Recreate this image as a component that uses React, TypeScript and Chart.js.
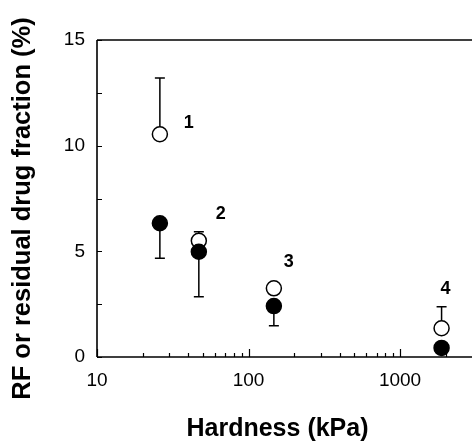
import React, { useEffect, useRef } from "react";
import { Chart, registerables } from "chart.js";

Chart.register(...registerables);

// ---- data ----
const hardness = [26, 47, 147, 1880]; // kPa
const openRF = [10.54, 5.5, 3.25, 1.36]; // open circles (%)
const openUpper = [13.2, 5.93, null, 2.38]; // upper end of error bar
const filledRF = [6.33, 4.98, 2.41, 0.43]; // filled circles (%)
const filledLower = [4.67, 2.85, 1.48, null]; // lower end of error bar
const pointLabels = ["1", "2", "3", "4"];

const xTickValues = [
  10, 20, 30, 40, 50, 60, 70, 80, 90,
  100, 200, 300, 400, 500, 600, 700, 800, 900,
  1000, 2000,
];
const xTickLabels = ["10", "100", "1000"];
const yTickValues = [0, 2.5, 5, 7.5, 10, 12.5, 15];
const yTickLabels = ["0", "5", "10", "15"];
const xTitle = "Hardness (kPa)";
const yTitle = "RF or residual drug fraction (%)";

const FONT = '"Liberation Sans", Arial, Helvetica, sans-serif';

// label offsets (px) relative to the open-circle point
const labelOffsets = [
  [29, -11],
  [22, -27],
  [15, -26],
  [4, -39],
];

const axesPlugin = {
  id: "inwardAxes",
  beforeDatasetsDraw(chart: any) {
    const { ctx, chartArea } = chart;
    const xs = chart.scales.x;
    const ys = chart.scales.y;
    ctx.save();
    ctx.strokeStyle = "#000";
    ctx.lineWidth = 1.6;
    ctx.beginPath();
    ctx.moveTo(chartArea.left, chartArea.top);
    ctx.lineTo(chartArea.left, chartArea.bottom);
    ctx.moveTo(chartArea.left, chartArea.bottom);
    ctx.lineTo(chartArea.right, chartArea.bottom);
    ctx.moveTo(chartArea.left, chartArea.top);
    ctx.lineTo(chartArea.right, chartArea.top);
    ctx.stroke();

    ctx.lineWidth = 1.2;
    ctx.beginPath();
    xTickValues.forEach((v) => {
      const px = Math.round(xs.getPixelForValue(v)) + 0.5;
      const major = xTickLabels.includes(String(v));
      const len = major ? 8 : 4;
      ctx.moveTo(px, chartArea.bottom);
      ctx.lineTo(px, chartArea.bottom - len);
    });
    yTickValues.forEach((v) => {
      const py = Math.round(ys.getPixelForValue(v)) + 0.5;
      ctx.moveTo(chartArea.left, py);
      ctx.lineTo(chartArea.left + 5, py);
    });
    ctx.stroke();

    // error bars
    ctx.lineWidth = 1.5;
    const cap = 5;
    const bar = (px: number, from: number, to: number) => {
      const y0 = ys.getPixelForValue(from);
      const y1 = ys.getPixelForValue(to);
      ctx.beginPath();
      ctx.moveTo(px, y0);
      ctx.lineTo(px, y1);
      ctx.moveTo(px - cap, y1);
      ctx.lineTo(px + cap, y1);
      ctx.stroke();
    };
    hardness.forEach((h, i) => {
      const px = xs.getPixelForValue(h);
      const up = openUpper[i];
      const lo = filledLower[i];
      if (up != null) bar(px, openRF[i], up);
      if (lo != null) bar(px, filledRF[i], lo);
    });

    // axis titles
    ctx.fillStyle = "#000";
    ctx.textAlign = "center";
    ctx.textBaseline = "middle";
    ctx.font = `bold 25px ${FONT}`;
    ctx.fillText(xTitle, (chartArea.left + chartArea.right) / 2 - 7, 429);
    ctx.font = `bold 25.5px ${FONT}`;
    ctx.translate(23, (chartArea.top + chartArea.bottom) / 2 + 10);
    ctx.rotate(-Math.PI / 2);
    ctx.fillText(yTitle, 0, 0);
    ctx.restore();
  },
  afterDatasetsDraw(chart: any) {
    const { ctx } = chart;
    const xs = chart.scales.x;
    const ys = chart.scales.y;
    ctx.save();
    ctx.fillStyle = "#000";
    ctx.font = `bold 18px ${FONT}`;
    ctx.textAlign = "center";
    ctx.textBaseline = "middle";
    pointLabels.forEach((t, i) => {
      const px = xs.getPixelForValue(hardness[i]);
      const py = ys.getPixelForValue(openRF[i]);
      ctx.fillText(t, px + labelOffsets[i][0], py + labelOffsets[i][1]);
    });
    ctx.restore();
  },
};

export default function App() {
  const ref = useRef<HTMLCanvasElement | null>(null);
  useEffect(() => {
    if (!ref.current) return;
    const chart = new Chart(ref.current, {
      type: "scatter",
      data: {
        datasets: [
          {
            label: "filled",
            data: hardness.map((h, i) => ({ x: h, y: filledRF[i] })),
            pointRadius: 7.5,
            pointBackgroundColor: "#000",
            pointBorderColor: "#000",
            pointBorderWidth: 1.5,
          },
          {
            label: "open",
            data: hardness.map((h, i) => ({ x: h, y: openRF[i] })),
            pointRadius: 7.5,
            pointBackgroundColor: "#fff",
            pointBorderColor: "#000",
            pointBorderWidth: 1.5,
          },
        ],
      },
      options: {
        animation: false,
        responsive: false,
        maintainAspectRatio: false,
        layout: { autoPadding: false, padding: { top: 40, right: 0, left: 0, bottom: 0 } },
        plugins: {
          legend: { display: false },
          tooltip: { enabled: false },
        },
        scales: {
          x: {
            type: "logarithmic",
            position: "bottom",
            min: 10,
            max: 2985,
            grid: { display: false, drawTicks: false },
            border: { display: false },
            afterBuildTicks: (s: any) => {
              s.ticks = xTickValues.map((v) => ({ value: v }));
            },
            afterFit: (s: any) => {
              s.height = 86;
            },
            ticks: {
              autoSkip: false,
              maxRotation: 0,
              color: "#000",
              padding: 12,
              font: { family: FONT, size: 19 },
              callback: (v: any) => (xTickLabels.includes(String(v)) ? String(v) : ""),
            },
            title: { display: false },
          },
          y: {
            min: 0,
            max: 15,
            grid: { display: false, drawTicks: false },
            border: { display: false },
            afterBuildTicks: (s: any) => {
              s.ticks = yTickValues.map((v) => ({ value: v }));
            },
            afterFit: (s: any) => {
              s.width = 97;
            },
            ticks: {
              autoSkip: false,
              color: "#000",
              padding: 12,
              font: { family: FONT, size: 19 },
              callback: (v: any) => (yTickLabels.includes(String(v)) ? String(v) : ""),
            },
            title: { display: false },
          },
        },
      },
      plugins: [axesPlugin],
    } as any);
    return () => chart.destroy();
  }, []);
  return (
    <div style={{ position: "absolute", left: 0, top: 0, width: 472, height: 443, background: "#fff" }}>
      <canvas ref={ref} width={472} height={443} style={{ display: "block" }} />
    </div>
  );
}
